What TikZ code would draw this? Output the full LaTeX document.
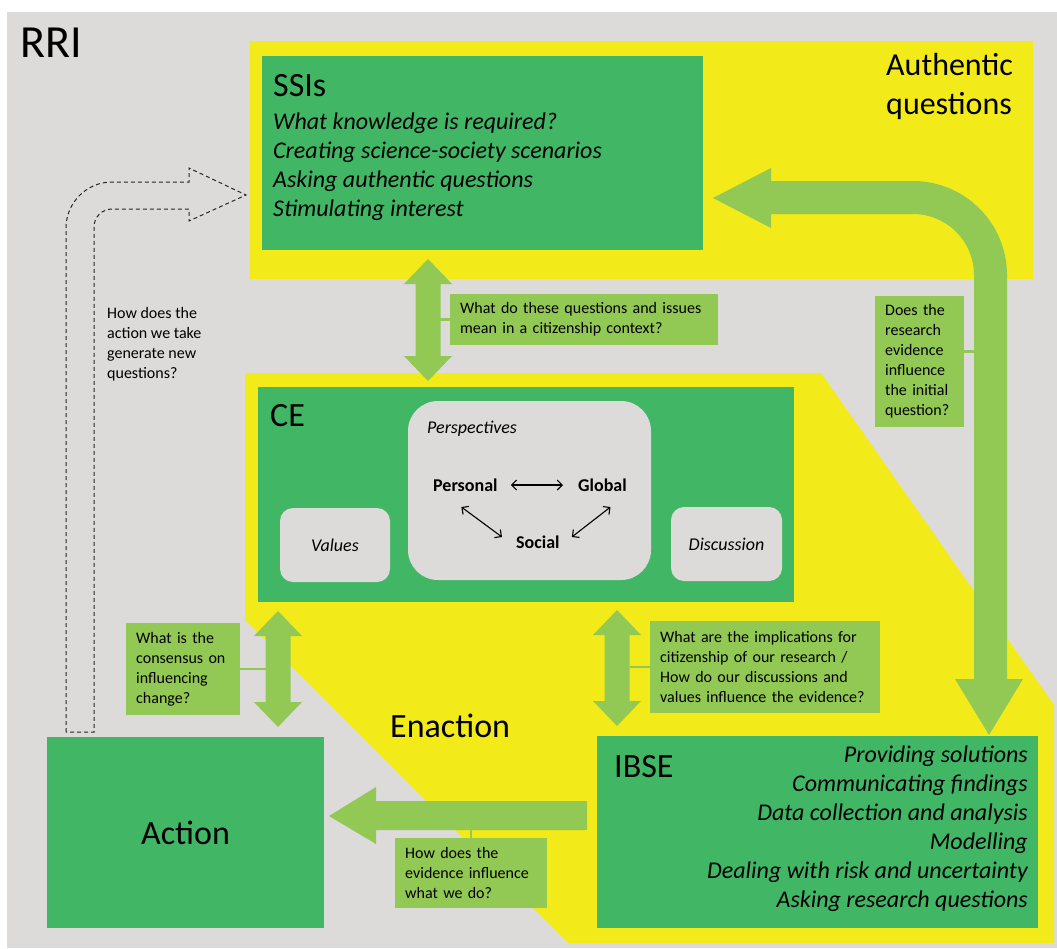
\documentclass[tikz,border=0pt]{standalone}
\usepackage{fontspec}
\setmainfont{Carlito}
\usetikzlibrary{arrows.meta}

% vertical two-headed block arrow: x, top tip, bottom tip
\newcommand{\updown}[3]{%
  \fill[arrowgreen] ({#1-12.5},{#2+25}) -- ({#1-24},{#2+25}) -- (#1,#2) -- ({#1+24},{#2+25}) -- ({#1+12.5},{#2+25})
    -- ({#1+12.5},{#3-25}) -- ({#1+24},{#3-25}) -- (#1,#3) -- ({#1-24},{#3-25}) -- ({#1-12.5},{#3-25}) -- cycle;}

\begin{document}
\begin{tikzpicture}[x=1pt,y=-1pt]
  % Key Colors
  \definecolor{rrigray}   {RGB}{220,219,217}
  \definecolor{zoneyellow}{RGB}{243,234,25}
  \definecolor{boxgreen}  {RGB}{65,183,101}
  \definecolor{arrowgreen}{RGB}{146,200,84}

  % Styles
  \tikzstyle{green box}=[fill=boxgreen,inner sep=0pt,anchor=north west]
  \tikzstyle{soft box}=[fill=rrigray,rounded corners=13pt,inner sep=0pt,font=\fontsize{18}{22}\selectfont\itshape]
  \tikzstyle{zone title}=[inner sep=0pt,anchor=base west,font=\fontsize{34}{41}\selectfont]
  \tikzstyle{item list}=[inner sep=0pt,font=\fontsize{24}{29}\selectfont\itshape]
  \tikzstyle{question box}=[fill=arrowgreen,inner xsep=10pt,inner ysep=5pt,anchor=north west,align=left,font=\fontsize{16}{20}\selectfont]
  \tikzstyle{perspective}=[inner sep=0pt,anchor=base west,font=\fontsize{18}{22}\selectfont\bfseries]
  \tikzstyle{link line}=[arrowgreen,line width=2.5pt]
  \tikzstyle{view arrow}=[line width=1.1pt,{Straight Barb[length=5pt,width=10pt]}-{Straight Barb[length=5pt,width=10pt]}]

  % Background
  \fill[white] (0,0) rectangle (1057,948);
  \fill[rrigray] (7,12) rectangle (1057,948);
  \useasboundingbox (0,0) rectangle (1057,948);

  % Zones
  \fill[zoneyellow] (250,41) rectangle (1033,279);
  \fill[zoneyellow] (245,373) -- (821,373) -- (1054,705) -- (1054,943) -- (568,943) -- (245,620) -- cycle;

  \node[zone title,font=\fontsize{46}{55}\selectfont] (rri) at (20,57) {RRI};
  % multi-line nodes sit on their last line
  \node[zone title,font=\fontsize{32}{39}\selectfont,align=left] (authentic) at (886,114) {Authentic\\questions};
  \node[zone title] (enaction) at (390,737) {Enaction};

  % SSIs
  \node[green box,minimum width=441pt,minimum height=194pt] (ssi) at (262,56) {};
  \node[zone title] (ssititle) at (273,96) {SSIs};
  \node[item list,anchor=base west,align=left] (ssilist) at (273,216)
    {What knowledge is required?\\Creating science-society scenarios\\Asking authentic questions\\Stimulating interest};

  % CE
  \node[green box,minimum width=536pt,minimum height=215pt] (ce) at (258,387) {};
  \node[zone title] (cetitle) at (270,426) {CE};
  \node[soft box,rounded corners=30pt,minimum width=243pt,minimum height=179pt] (persp) at (529.5,490.5) {};
  \node[inner sep=0pt,anchor=base west,font=\fontsize{18}{22}\selectfont\itshape] (persptitle) at (427,433) {Perspectives};
  \node[perspective] (personal) at (433,491) {Personal};
  \node[perspective] (global)   at (578,491) {Global};
  \node[perspective] (social)   at (516,548) {Social};
  \draw[view arrow] ([shift={(13,-6)}]personal.base east) -- ([shift={(-15,-6)}]global.base west);
  \draw[view arrow] ([shift={(-4,16)}]personal.base) -- ([shift={(-14,-11)}]social.base west);
  \draw[view arrow] ([shift={(12,-11)}]social.base east) -- ([shift={(8,16)}]global.base);
  \node[soft box,minimum width=110pt,minimum height=74pt] (values) at (335,545) {Values};
  \node[soft box,minimum width=111pt,minimum height=74pt] (discussion) at (726.5,544) {Discussion};

  % IBSE and Action
  \node[green box,minimum width=441pt,minimum height=192pt] (ibse) at (597,736) {};
  \node[zone title] (ibsetitle) at (614,777) {IBSE};
  \node[item list,anchor=base east,align=right] (ibselist) at (1028,907)
    {Providing solutions\\Communicating findings\\Data collection and analysis\\Modelling\\Dealing with risk and uncertainty\\Asking research questions};
  \node[green box,anchor=center,minimum width=277pt,minimum height=191pt,font=\fontsize{34}{41}\selectfont] (action) at (185.5,832.5) {Action};

  % Block arrows
  \fill[arrowgreen] (771,181) -- (913,181) arc[start angle=-90,end angle=0,radius=94] -- (1007,679) -- (1023,679)
    -- (989,735) -- (955,679) -- (974,679) -- (974,275) arc[start angle=0,end angle=-90,radius=61]
    -- (771,214) -- (771,228) -- (713,198) -- (771,168) -- cycle;
  \fill[arrowgreen] (587,801) -- (376,801) -- (376,787) -- (329,816) -- (376,844) -- (376,830) -- (587,830) -- cycle;
  \updown{428}{259}{381}
  \updown{278}{611}{727}
  \updown{617}{610}{726}

  % Dashed loop back
  \draw[black!85,line width=1pt,dash pattern=on 4pt off 3pt] (66,732) -- (66,228) arc[start angle=180,end angle=270,radius=46]
    -- (189,182) -- (189,168) -- (246,195) -- (189,221) -- (189,209) -- (112,209)
    arc[start angle=270,end angle=180,radius=18] -- (94,732) -- cycle;
  \node[inner sep=0pt,anchor=base west,align=left,font=\fontsize{16}{20}\selectfont] (qnew) at (107,378)
    {How does the\\action we take\\generate new\\questions?};

  % Questions
  \coordinate (midshaft)   at (439,0);
  \coordinate (loopshaft)  at (974,0);
  \coordinate (leftshaft)  at (266,0);
  \coordinate (rightshaft) at (630,0);
  \coordinate (backshaft)  at (0,830);

  \node[question box,text width=248pt,minimum height=51pt] (qcontext) at (450,294)
    {What do these questions and issues\\mean in a citizenship context?};
  \node[question box,text width=69pt,minimum height=131pt] (qevidence) at (875,296)
    {Does the\\research\\evidence\\influence\\the initial\\question?};
  \node[question box,text width=94pt,minimum height=92pt] (qconsensus) at (126,623)
    {What is the\\consensus on\\influencing\\change?};
  \node[question box,text width=210pt,minimum height=92pt] (qimplication) at (650,621)
    {What are the implications for\\citizenship of our research /\\How do our discussions and\\values influence the evidence?};
  \node[question box,text width=132pt,minimum height=70pt] (qaction) at (395,838)
    {How does the\\evidence influence\\what we do?};

  \draw[link line] (qcontext.west) -- (qcontext.west -| midshaft);
  \draw[link line] ([yshift=10pt]qevidence.east) -- ([yshift=10pt]qevidence.east -| loopshaft);
  \draw[link line] (qconsensus.east) -- (qconsensus.east -| leftshaft);
  \draw[link line] (qimplication.west) -- (qimplication.west -| rightshaft);
  \draw[link line] (qaction.north) -- (qaction.north |- backshaft);
\end{tikzpicture}
\end{document}
